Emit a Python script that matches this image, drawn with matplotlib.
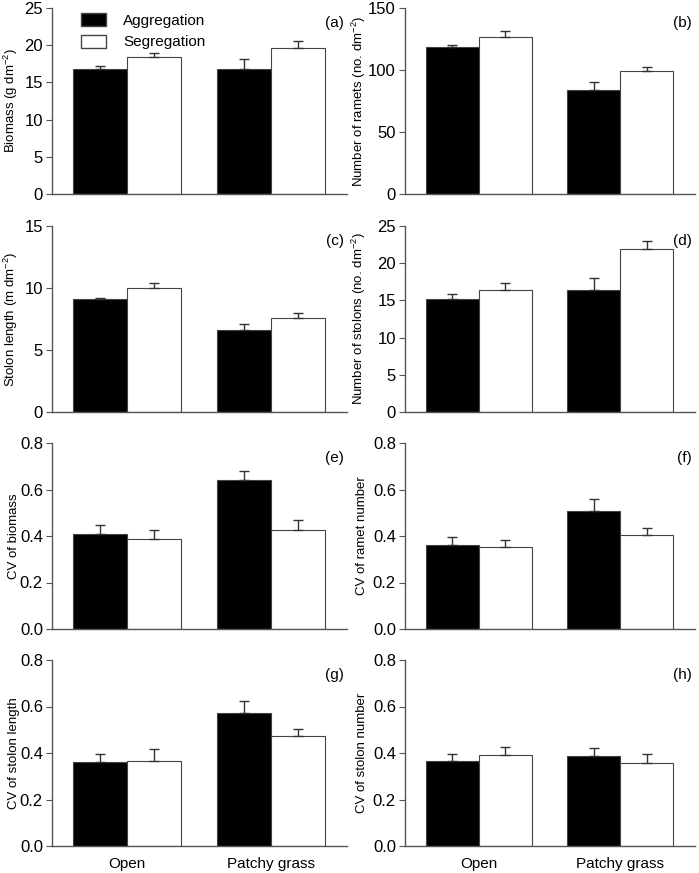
import numpy as np
import matplotlib
matplotlib.use('Agg')
import matplotlib.pyplot as plt
from matplotlib.patches import Patch

plt.rcParams['font.family'] = ['Liberation Sans', 'DejaVu Sans']
plt.rcParams['mathtext.default'] = 'regular'

HABITATS = ['Open', 'Patchy grass']
SERIES = ['Aggregation', 'Segregation']

# bar heights (Open, Patchy grass) per series, plus upper standard errors
biomass_agg = [16.8, 16.8]
biomass_seg = [18.4, 19.6]
biomass_agg_se = [0.4, 1.4]
biomass_seg_se = [0.5, 0.9]

ramets_agg = [118.2, 83.8]
ramets_seg = [126.3, 99.1]
ramets_agg_se = [1.8, 6.2]
ramets_seg_se = [4.9, 3.0]

stolen_agg = [9.10, 6.63]
stolen_seg = [9.99, 7.62]
stolen_agg_se = [0.12, 0.48]
stolen_seg_se = [0.38, 0.38]

stolnum_agg = [15.2, 16.4]
stolnum_seg = [16.4, 21.95]
stolnum_agg_se = [0.7, 1.6]
stolnum_seg_se = [0.95, 1.05]

cvbio_agg = [0.409, 0.643]
cvbio_seg = [0.386, 0.424]
cvbio_agg_se = [0.038, 0.038]
cvbio_seg_se = [0.040, 0.045]

cvram_agg = [0.361, 0.509]
cvram_seg = [0.351, 0.406]
cvram_agg_se = [0.036, 0.050]
cvram_seg_se = [0.032, 0.028]

cvslen_agg = [0.363, 0.571]
cvslen_seg = [0.367, 0.473]
cvslen_agg_se = [0.034, 0.051]
cvslen_seg_se = [0.049, 0.029]

cvsnum_agg = [0.366, 0.389]
cvsnum_seg = [0.392, 0.356]
cvsnum_agg_se = [0.028, 0.033]
cvsnum_seg_se = [0.033, 0.040]

CV_TICKS = [0, 0.2, 0.4, 0.6, 0.8]
panels = [
    ('(a)', 'Biomass (g dm$^{-2}$)', biomass_agg, biomass_seg, biomass_agg_se, biomass_seg_se, 25, [0, 5, 10, 15, 20, 25], '%d'),
    ('(b)', 'Number of ramets (no. dm$^{-2}$)', ramets_agg, ramets_seg, ramets_agg_se, ramets_seg_se, 150, [0, 50, 100, 150], '%d'),
    ('(c)', 'Stolon length (m dm$^{-2}$)', stolen_agg, stolen_seg, stolen_agg_se, stolen_seg_se, 15, [0, 5, 10, 15], '%d'),
    ('(d)', 'Number of stolons (no. dm$^{-2}$)', stolnum_agg, stolnum_seg, stolnum_agg_se, stolnum_seg_se, 25, [0, 5, 10, 15, 20, 25], '%d'),
    ('(e)', 'CV of biomass', cvbio_agg, cvbio_seg, cvbio_agg_se, cvbio_seg_se, 0.8, CV_TICKS, '%.1f'),
    ('(f)', 'CV of ramet number', cvram_agg, cvram_seg, cvram_agg_se, cvram_seg_se, 0.8, CV_TICKS, '%.1f'),
    ('(g)', 'CV of stolon length', cvslen_agg, cvslen_seg, cvslen_agg_se, cvslen_seg_se, 0.8, CV_TICKS, '%.1f'),
    ('(h)', 'CV of stolon number', cvsnum_agg, cvsnum_seg, cvsnum_agg_se, cvsnum_seg_se, 0.8, CV_TICKS, '%.1f'),
]

W, H = 699, 873
fig = plt.figure(figsize=(W / 100, H / 100), dpi=100)

col_left = [52, 405]
col_width = [295, 290]
row_top = [8, 226, 443, 660]
ax_h = 186
label_right = [20, 368]   # pixel x of the y-label baseline side

spine_c = '#555555'
edge_c = '#444444'
x = np.arange(len(HABITATS))
bw = 0.375
ekw = dict(ecolor='#333333', elinewidth=1.0, capthick=1.0)

for i, (tag, ylab, agg, seg, agg_se, seg_se, ymax, yt, fmt) in enumerate(panels):
    r, c = divmod(i, 2)
    ax = fig.add_axes([col_left[c] / W, 1 - (row_top[r] + ax_h) / H,
                       col_width[c] / W, ax_h / H])
    ax.bar(x - bw / 2, agg, bw, color='black', edgecolor=edge_c, linewidth=0.8,
           yerr=[np.zeros(2), agg_se], capsize=3.5, error_kw=ekw)
    ax.bar(x + bw / 2, seg, bw, color='white', edgecolor=edge_c, linewidth=0.8,
           yerr=[np.zeros(2), seg_se], capsize=3.5, error_kw=ekw)
    ax.set_xlim(-0.52, 1.53)
    ax.set_ylim(0, ymax)
    ax.set_yticks(yt)
    ax.set_yticklabels([fmt % v for v in yt])
    ax.tick_params(axis='y', direction='out', length=4, color=spine_c,
                   labelsize=12, pad=2.5)
    ax.tick_params(axis='x', length=0, labelsize=11, pad=8)
    ax.set_xticks(x)
    if r == 3:
        ax.set_xticklabels(HABITATS)
    else:
        ax.set_xticklabels([])
    for s in ['top', 'right']:
        ax.spines[s].set_visible(False)
    for s in ['left', 'bottom']:
        ax.spines[s].set_color(spine_c)
        ax.spines[s].set_linewidth(1.0)
    ax.set_ylabel(ylab, fontsize=9.5)
    ax.yaxis.set_label_coords((label_right[c] - col_left[c]) / col_width[c], 0.5)
    ax.text(0.99, 0.955, tag, transform=ax.transAxes, ha='right', va='top',
            fontsize=11)
    if i == 0:
        handles = [Patch(facecolor='black', edgecolor=edge_c),
                   Patch(facecolor='white', edgecolor=edge_c)]
        ax.legend(handles, SERIES, loc='upper left', frameon=False,
                  bbox_to_anchor=(0.05, 1.045), fontsize=11,
                  handlelength=1.7, handleheight=0.9, handletextpad=1.1,
                  labelspacing=0.45)

fig.savefig('out.png', dpi=100)
